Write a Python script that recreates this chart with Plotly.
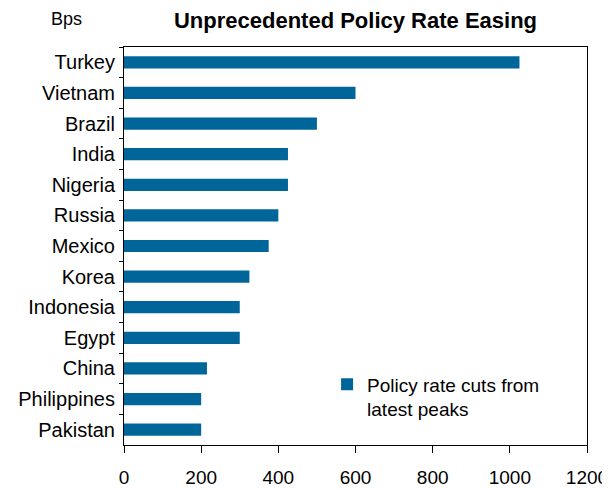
import plotly.graph_objects as go

countries = ["Turkey", "Vietnam", "Brazil", "India", "Nigeria", "Russia", "Mexico",
             "Korea", "Indonesia", "Egypt", "China", "Philippines", "Pakistan"]
cuts_bps = [1025, 600, 500, 425, 425, 400, 375, 325, 300, 300, 215, 200, 200]
x_ticks = [0, 200, 400, 600, 800, 1000, 1200]
series_name = "Policy rate cuts from<br>latest peaks"
title_text = "<b>Unprecedented Policy Rate Easing</b>"
unit_label = "Bps"

FONT = "Liberation Sans, Arial, sans-serif"

fig = go.Figure()
fig.add_trace(go.Bar(
    x=cuts_bps, y=countries, orientation="h",
    marker=dict(color="#006699", line=dict(width=0)),
    width=0.4, name=series_name, showlegend=True,
))

# page body has an 8px margin; margins compensate so the plot sits at 124..587 x 47..445
fig.update_layout(
    width=610, height=490,
    margin=dict(l=116, r=31, t=39, b=53, autoexpand=False),
    paper_bgcolor="white", plot_bgcolor="white",
    font=dict(family=FONT, size=19, color="black"),
    title=dict(text=title_text, x=0.5, xref="paper", xanchor="center",
               y=1 - 12 / 490, yanchor="middle",
               font=dict(family=FONT, size=22, color="black")),
    showlegend=True,
    legend=dict(x=0.4386, y=0.20, xanchor="left", yanchor="top",
                bgcolor="rgba(0,0,0,0)", borderwidth=0,
                font=dict(family=FONT, size=19, color="black"),
                valign="top", tracegroupgap=0),
    bargap=0.6,
)

fig.update_xaxes(
    range=[0, 1200], tickvals=x_ticks, ticktext=[str(v) for v in x_ticks],
    showline=True, linecolor="black", linewidth=1, mirror=True,
    ticks="outside", ticklen=7, tickcolor="black", tickwidth=1,
    showgrid=False, zeroline=False, automargin=False, ticklabelstandoff=8,
    tickfont=dict(family=FONT, size=19, color="black"),
)
fig.update_yaxes(
    categoryorder="array", categoryarray=countries, autorange="reversed",
    showline=True, linecolor="black", linewidth=1, mirror=True,
    ticks="outside", ticklen=4, tickcolor="black", tickwidth=1,
    tickson="boundaries", showgrid=False, zeroline=False, automargin=False,
    ticklabelstandoff=4,
    tickfont=dict(family=FONT, size=20, color="black"),
)

fig.add_annotation(text=unit_label, xref="paper", yref="paper",
                   x=(49 - 124) / 463, y=(445 - 19) / 398,
                   xanchor="left", yanchor="middle", showarrow=False,
                   font=dict(family=FONT, size=18, color="black"))

fig.write_html("out.html")
